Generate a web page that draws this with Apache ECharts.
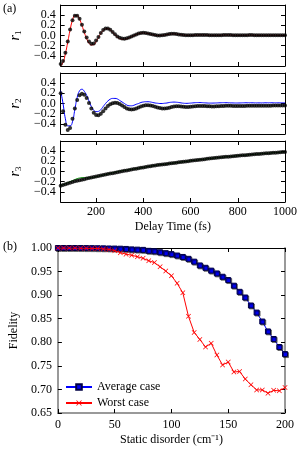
<!DOCTYPE html>
<html><head><meta charset="utf-8">
<script src="https://cdn.jsdelivr.net/npm/echarts@6/dist/echarts.min.js"></script>
<style>html,body{margin:0;padding:0;background:#fff}#c{width:300px;height:450px}</style>
</head><body><div id="c"></div>
<script>
// ---- Panel (a) data ----
const delayTime = [50,60,70,80,90,100,110,120,130,140,
150,160,170,180,190,200,210,220,230,240,
250,260,270,280,290,300,310,320,330,340,
350,360,370,380,390,400,410,420,430,440,
450,460,470,480,490,500,510,520,530,540,
550,560,570,580,590,600,610,620,630,640,
650,660,670,680,690,700,710,720,730,740,
750,760,770,780,790,800,810,820,830,840,
850,860,870,880,890,900,910,920,930,940,
950,960,970,980,990,1000];
const r1Data = [-0.56,-0.50,-0.34,-0.12,0.12,0.30,0.39,0.39,0.33,0.21,
0.08,-0.04,-0.12,-0.16,-0.155,-0.10,-0.03,0.05,0.11,0.14,
0.14,0.115,0.07,0.025,-0.02,-0.045,-0.06,-0.065,-0.055,-0.04,
-0.02,0.0,0.02,0.04,0.05,0.052,0.048,0.04,0.03,0.018,
0.008,0.002,0.0,0.005,0.012,0.02,0.028,0.032,0.033,0.03,
0.022,0.015,0.01,0.006,0.004,0.003,0.005,0.008,0.01,0.012,
0.012,0.01,0.008,0.006,0.005,0.004,0.004,0.005,0.007,0.009,
0.01,0.01,0.009,0.007,0.005,0.004,0.004,0.005,0.006,0.007,
0.008,0.008,0.007,0.006,0.005,0.004,0.004,0.005,0.006,0.006,
0.006,0.005,0.005,0.004,0.004,0.004];
const r1Fit = [-0.60,-0.53,-0.36,-0.13,0.11,0.30,0.39,0.39,0.32,0.20,
0.06,-0.06,-0.15,-0.185,-0.18,-0.12,-0.04,0.04,0.10,0.13,
0.135,0.11,0.065,0.015,-0.03,-0.06,-0.072,-0.075,-0.062,-0.045,
-0.025,-0.003,0.018,0.036,0.047,0.05,0.046,0.038,0.027,0.015,
0.005,0.0,-0.002,0.003,0.01,0.018,0.026,0.03,0.031,0.028,
0.022,0.015,0.01,0.006,0.004,0.003,0.005,0.008,0.01,0.012,
0.012,0.01,0.008,0.006,0.005,0.004,0.004,0.005,0.007,0.009,
0.01,0.01,0.009,0.007,0.005,0.004,0.004,0.005,0.006,0.007,
0.008,0.008,0.007,0.006,0.005,0.004,0.004,0.005,0.006,0.006,
0.006,0.005,0.005,0.004,0.004,0.004];
const r2Data = [0.2,-0.15,-0.42,-0.52,-0.48,-0.3,-0.1,0.07,0.16,0.19,
0.17,0.11,0.01,-0.1,-0.18,-0.225,-0.23,-0.2,-0.15,-0.1,
-0.05,-0.015,0.005,0.013,0.01,-0.01,-0.04,-0.07,-0.1,-0.115,
-0.12,-0.115,-0.1,-0.08,-0.06,-0.045,-0.035,-0.035,-0.04,-0.05,
-0.065,-0.08,-0.09,-0.1,-0.1,-0.095,-0.085,-0.07,-0.06,-0.055,
-0.055,-0.06,-0.065,-0.07,-0.07,-0.065,-0.06,-0.055,-0.05,-0.048,
-0.048,-0.05,-0.053,-0.056,-0.058,-0.058,-0.056,-0.053,-0.05,-0.047,
-0.045,-0.044,-0.045,-0.047,-0.049,-0.05,-0.05,-0.049,-0.047,-0.045,
-0.043,-0.042,-0.042,-0.043,-0.044,-0.045,-0.045,-0.044,-0.043,-0.042,
-0.041,-0.04,-0.04,-0.04,-0.041,-0.041];
const r2Fit = [0.25,0.0,-0.3,-0.44,-0.44,-0.36,-0.12,0.12,0.25,0.28,
0.24,0.16,0.05,-0.06,-0.13,-0.16,-0.155,-0.12,-0.06,0.0,
0.05,0.085,0.1,0.1,0.09,0.06,0.03,0.0,-0.03,-0.045,
-0.045,-0.035,-0.015,0.0,0.02,0.03,0.035,0.035,0.03,0.02,
0.01,0.005,0.0,0.0,0.005,0.01,0.02,0.025,0.028,0.025,
0.02,0.012,0.006,0.003,0.004,0.008,0.012,0.016,0.018,0.018,
0.016,0.013,0.01,0.008,0.008,0.009,0.011,0.013,0.015,0.016,
0.016,0.015,0.013,0.011,0.01,0.01,0.011,0.013,0.014,0.015,
0.015,0.014,0.013,0.012,0.012,0.012,0.013,0.014,0.014,0.014,
0.014,0.013,0.013,0.013,0.013,0.013];
const r3Data = [-0.28,-0.265,-0.25,-0.235,-0.22,-0.205,-0.19,-0.18,-0.17,-0.16,
-0.15,-0.14,-0.13,-0.12,-0.11,-0.10,-0.09,-0.08,-0.07,-0.06,
-0.05,-0.041,-0.032,-0.023,-0.014,-0.005,0.004,0.013,0.022,0.031,
0.04,0.048,0.056,0.064,0.072,0.08,0.088,0.096,0.104,0.112,
0.12,0.126,0.132,0.138,0.144,0.15,0.156,0.162,0.168,0.174,
0.18,0.186,0.192,0.198,0.204,0.21,0.216,0.221,0.227,0.232,
0.238,0.243,0.249,0.254,0.26,0.265,0.27,0.274,0.279,0.283,
0.288,0.292,0.297,0.301,0.306,0.31,0.314,0.318,0.322,0.326,
0.33,0.334,0.338,0.342,0.346,0.35,0.354,0.357,0.361,0.364,
0.368,0.371,0.375,0.378,0.382,0.385];
const r3Fit = [-0.28,-0.26,-0.24,-0.22,-0.2,-0.18,-0.16,-0.14,-0.128,-0.122,
-0.122,-0.125,-0.126,-0.122,-0.114,-0.104,-0.093,-0.082,-0.071,-0.06,
-0.048,-0.036,-0.024,-0.013,-0.003,0.006,0.014,0.021,0.028,0.035,
0.042,0.049,0.056,0.064,0.072,0.08,0.088,0.096,0.104,0.112,
0.12,0.126,0.132,0.138,0.144,0.15,0.156,0.162,0.168,0.174,
0.18,0.186,0.192,0.198,0.204,0.21,0.216,0.221,0.227,0.232,
0.238,0.243,0.249,0.254,0.26,0.265,0.27,0.274,0.279,0.283,
0.288,0.292,0.297,0.301,0.306,0.31,0.314,0.318,0.322,0.326,
0.33,0.334,0.338,0.342,0.346,0.35,0.354,0.357,0.361,0.364,
0.368,0.371,0.375,0.378,0.382,0.385];
const delayTicks = [200,400,600,800,1000];
const rTicks = [-0.4,-0.2,0,0.2,0.4];
const rLabelsA = [-0.4,0,0.4];
const rLabelsB = [-0.2,0.2];

// ---- Panel (b) data ----
const disorder = [0,5,10,15,20,25,30,35,40,45,50,55,60,65,70,75,80,85,90,95,100,
105,110,115,120,125,130,135,140,145,150,155,160,165,170,175,180,185,190,195,200];
const averageCase = [1.0,1.0,1.0,1.0,0.9999,0.9998,0.9997,0.9995,0.9993,0.999,0.9988,
0.9985,0.998,0.997,0.9965,0.996,0.994,0.993,0.991,0.989,0.987,
0.984,0.981,0.977,0.971,0.963,0.958,0.952,0.946,0.939,0.932,
0.92,0.907,0.895,0.878,0.863,0.844,0.823,0.807,0.79,0.775];
const worstCase = [1.0,1.0,0.9999,0.9998,0.9996,0.9994,0.9992,0.999,0.998,0.997,0.9944,
0.990,0.987,0.9845,0.9816,0.978,0.973,0.969,0.960,0.951,0.941,
0.925,0.905,0.855,0.821,0.806,0.790,0.798,0.773,0.752,0.758,
0.737,0.738,0.722,0.710,0.699,0.699,0.692,0.698,0.697,0.704];

const FONT = "Liberation Serif";
const zip = (xs, ys) => xs.map((x, i) => [x, ys[i]]);
const fmt1 = v => (Math.abs(v) < 1e-9 ? 0 : v).toFixed(1).replace('-', '\u2212');
const fmtInt = v => String(Math.round(v));

const chart = echarts.init(document.getElementById('c'), null, {renderer: 'canvas'});
const gridsA = [{top: 5, height: 61}, {top: 73, height: 61}, {top: 141, height: 61}];
const grid = gridsA.map(g => ({left: 54, right: 15, top: g.top, height: g.height}));
grid.push({left: 54, right: 15, top: 248, height: 165});

const labelStyle = {color: '#000', fontFamily: FONT, fontSize: 12};
const xAxis = [], yAxis = [];
const blackLine = {color: '#000', width: 1};
for (let i = 0; i < 3; i++) {
  for (const pos of ['bottom', 'top']) {
    const ax = {
      gridIndex: i, type: 'value', min: 50, max: 1000, position: pos,
      axisLine: {show: true, onZero: false, lineStyle: blackLine},
      axisTick: {show: true, inside: true, length: 4, customValues: delayTicks, lineStyle: blackLine},
      axisLabel: Object.assign({show: (i === 2 && pos === 'bottom'), customValues: delayTicks,
        formatter: fmtInt, margin: 4, showMinLabel: true, showMaxLabel: true}, labelStyle),
      splitLine: {show: false}
    };
    if (i === 2 && pos === 'bottom') {
      ax.name = 'Delay Time (fs)';
      ax.nameLocation = 'middle';
      ax.nameGap = 19;
      ax.nameTextStyle = Object.assign({}, labelStyle);
    }
    xAxis.push(ax);
  }
  // yAxis 3i: left (line, ticks, labels -0.4/0/0.4, name), 3i+1: right, 3i+2: left labels -0.2/0.2
  const left = {
    gridIndex: i, type: 'value', min: -0.6, max: 0.6, position: 'left',
    axisLine: {show: true, onZero: false, lineStyle: blackLine},
    axisTick: {show: true, inside: true, length: 4, customValues: rTicks, lineStyle: blackLine},
    axisLabel: Object.assign({customValues: rLabelsA, formatter: fmt1, margin: 5,
      showMinLabel: true, showMaxLabel: true}, labelStyle),
    splitLine: {show: false},
    name: '{r|r}{s|' + (i + 1) + '}', nameLocation: 'middle', nameGap: 30, nameRotate: 90,
    nameTextStyle: {color: '#000', fontFamily: FONT, rich: {
      r: {fontFamily: FONT, fontStyle: 'italic', fontSize: 14, lineHeight: 16, color: '#000'},
      s: {fontFamily: FONT, fontSize: 9, lineHeight: 9, verticalAlign: 'bottom', color: '#000'}
    }}
  };
  const right = {
    gridIndex: i, type: 'value', min: -0.6, max: 0.6, position: 'right',
    axisLine: {show: true, onZero: false, lineStyle: blackLine},
    axisTick: {show: true, inside: true, length: 4, customValues: rTicks, lineStyle: blackLine},
    axisLabel: {show: false}, splitLine: {show: false}
  };
  const leftExtra = {
    gridIndex: i, type: 'value', min: -0.6, max: 0.6, position: 'left', offset: 0,
    axisLine: {show: false, onZero: false}, axisTick: {show: false},
    axisLabel: Object.assign({customValues: rLabelsB, formatter: fmt1, margin: 5,
      showMinLabel: true, showMaxLabel: true}, labelStyle),
    splitLine: {show: false}
  };
  yAxis.push(left, right, leftExtra);
}
const grayLine = {color: '#999', width: 2};
// Panel (b) axes: xAxis 6 (bottom), 7 (top); yAxis 9 (left), 10 (right)
xAxis.push({gridIndex: 3, type: 'value', min: 0, max: 200, interval: 50, position: 'bottom',
  axisLine: {show: true, onZero: false, lineStyle: grayLine},
  axisTick: {show: true, inside: true, length: 4, lineStyle: blackLine},
  axisLabel: Object.assign({margin: 6, formatter: fmtInt, showMinLabel: true, showMaxLabel: true}, labelStyle),
  splitLine: {show: false},
  name: 'Static disorder (cm\u207B\u00B9)', nameLocation: 'middle', nameGap: 21,
  nameTextStyle: Object.assign({}, labelStyle)});
xAxis.push({gridIndex: 3, type: 'value', min: 0, max: 200, interval: 50, position: 'top',
  axisLine: {show: true, onZero: false, lineStyle: blackLine},
  axisTick: {show: true, inside: true, length: 4, lineStyle: blackLine},
  axisLabel: {show: false}, splitLine: {show: false}});
yAxis.push({gridIndex: 3, type: 'value', min: 0.65, max: 1.0, interval: 0.05, position: 'left',
  axisLine: {show: true, onZero: false, lineStyle: grayLine},
  axisTick: {show: true, inside: true, length: 4, lineStyle: blackLine},
  axisLabel: Object.assign({margin: 6, formatter: v => v.toFixed(2), showMinLabel: true, showMaxLabel: true}, labelStyle),
  splitLine: {show: false},
  name: 'Fidelity', nameLocation: 'middle', nameGap: 33, nameRotate: 90,
  nameTextStyle: Object.assign({}, labelStyle)});
yAxis.push({gridIndex: 3, type: 'value', min: 0.65, max: 1.0, interval: 0.05, position: 'right',
  axisLine: {show: true, onZero: false, lineStyle: grayLine},
  axisTick: {show: true, inside: true, length: 4, lineStyle: blackLine},
  axisLabel: {show: false}, splitLine: {show: false}});

const fitSeries = (i, data, color) => ({type: 'line', xAxisIndex: 2 * i, yAxisIndex: 3 * i,
  data: zip(delayTime, data), showSymbol: false, symbol: 'none', smooth: true,
  lineStyle: {color: color, width: 1}, z: 2, silent: true});
const dotSeries = (i, data) => ({type: 'scatter', xAxisIndex: 2 * i, yAxisIndex: 3 * i,
  data: zip(delayTime, data), symbol: 'circle', symbolSize: 4,
  itemStyle: {color: '#000'}, z: 3, silent: true});

const crossPath = 'path://M0,1L1,0L5,4L9,0L10,1L6,5L10,9L9,10L5,6L1,10L0,9L4,5Z';

const option = {
  animation: false,
  backgroundColor: '#fff',
  textStyle: {fontFamily: FONT},
  grid, xAxis, yAxis,
  legend: {
    left: 60, top: 376, orient: 'vertical', itemGap: 4, itemWidth: 26, itemHeight: 7,
    textStyle: Object.assign({}, labelStyle),
    data: ['Average case', 'Worst case']
  },
  graphic: [
    {type: 'text', left: 3, top: 3, style: {text: '(a)', font: '12px "Liberation Serif"', fill: '#000'}},
    {type: 'text', left: 3, top: 241, style: {text: '(b)', font: '12px "Liberation Serif"', fill: '#000'}}
  ],
  series: [
    fitSeries(0, r1Fit, '#ff0000'), dotSeries(0, r1Data),
    fitSeries(1, r2Fit, '#0000ff'), dotSeries(1, r2Data),
    fitSeries(2, r3Fit, '#009900'), dotSeries(2, r3Data),
    {name: 'Average case', type: 'line', xAxisIndex: 6, yAxisIndex: 9,
      data: zip(disorder, averageCase), symbol: 'rect', symbolSize: 5, showAllSymbol: true,
      lineStyle: {color: '#0000ff', width: 1},
      itemStyle: {color: '#0000ee', borderColor: '#000044', borderWidth: 1,
        shadowColor: 'rgba(0,0,0,0.45)', shadowOffsetX: 1, shadowOffsetY: 1}, z: 3},
    {name: 'Worst case', type: 'line', xAxisIndex: 6, yAxisIndex: 9,
      data: zip(disorder, worstCase), symbol: crossPath, symbolSize: 5, showAllSymbol: true,
      lineStyle: {color: '#ff0000', width: 1},
      itemStyle: {color: '#ff0000'}, z: 4}
  ]
};
chart.setOption(option);
</script>
</body></html>
